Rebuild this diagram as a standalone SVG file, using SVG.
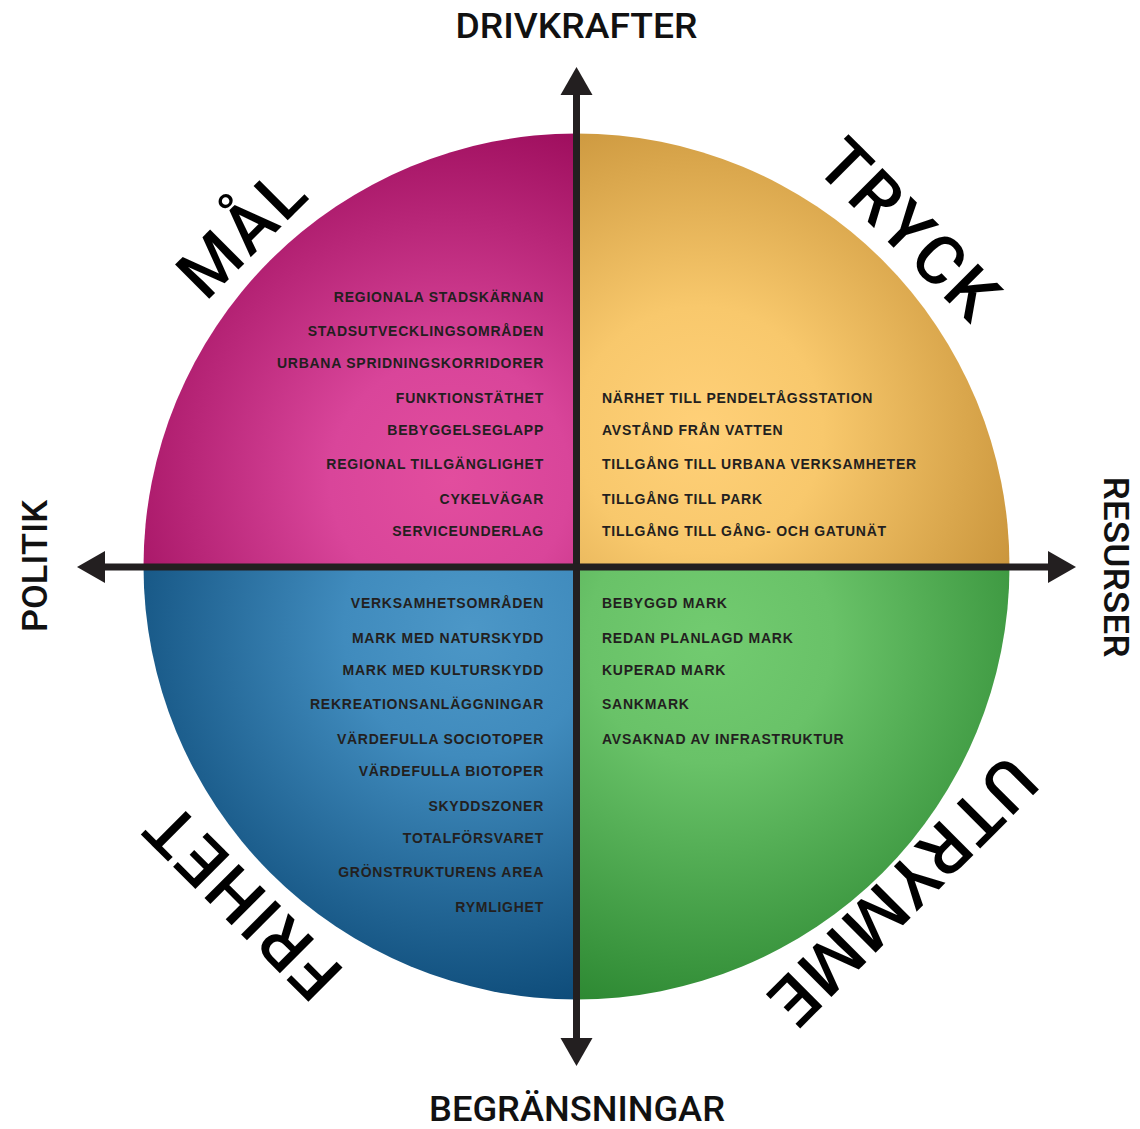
<svg xmlns="http://www.w3.org/2000/svg" width="1140" height="1129" viewBox="0 0 1140 1129">
  <style>
    .item { font-family: "Liberation Sans", Arial, sans-serif; font-weight: bold; font-size: 14px; letter-spacing: 0.75px; fill: #231f20; }
    .left { text-anchor: end; }
    .right { text-anchor: start; }
    .axis-label { font-family: Roboto, "Liberation Sans", Arial, sans-serif; font-weight: 500; font-size: 35px; fill: #111; text-anchor: middle; }
    .quad-label { font-family: Roboto, "Liberation Sans", Arial, sans-serif; font-weight: 500; font-size: 68px; letter-spacing: 3px; fill: #000; text-anchor: middle; }
    .axis { stroke: #231f20; stroke-width: 7; fill: none; }
    .head { fill: #231f20; }
  </style>
  <defs>
    <radialGradient id="gMal" gradientUnits="userSpaceOnUse" cx="450" cy="480" r="400">
      <stop offset="0" stop-color="#e24d9e"/>
      <stop offset="0.3" stop-color="#d9459a"/>
      <stop offset="1" stop-color="#970756"/>
    </radialGradient>
    <radialGradient id="gTryck" gradientUnits="userSpaceOnUse" cx="700" cy="430" r="410">
      <stop offset="0" stop-color="#ffd078"/>
      <stop offset="0.3" stop-color="#f8c86c"/>
      <stop offset="1" stop-color="#bb852d"/>
    </radialGradient>
    <radialGradient id="gFrihet" gradientUnits="userSpaceOnUse" cx="470" cy="630" r="420">
      <stop offset="0" stop-color="#4c97c7"/>
      <stop offset="0.3" stop-color="#408bbd"/>
      <stop offset="1" stop-color="#074370"/>
    </radialGradient>
    <radialGradient id="gUtrymme" gradientUnits="userSpaceOnUse" cx="710" cy="640" r="410">
      <stop offset="0" stop-color="#72cb70"/>
      <stop offset="0.3" stop-color="#69c268"/>
      <stop offset="1" stop-color="#27832d"/>
    </radialGradient>
  </defs>

  <!-- quadrants -->
  <g id="mal">
    <path d="M576.5,566.5 L143.5,566.5 A433,433 0 0 1 576.5,133.5 Z" fill="url(#gMal)"/>
    <text class="quad-label" transform="translate(242,232) rotate(-45)" y="24">MÅL</text>
    <text class="item left" x="544" y="302">REGIONALA STADSKÄRNAN</text>
    <text class="item left" x="544" y="336">STADSUTVECKLINGSOMRÅDEN</text>
    <text class="item left" x="544" y="368">URBANA SPRIDNINGSKORRIDORER</text>
    <text class="item left" x="544" y="403">FUNKTIONSTÄTHET</text>
    <text class="item left" x="544" y="435">BEBYGGELSEGLAPP</text>
    <text class="item left" x="544" y="469">REGIONAL TILLGÄNGLIGHET</text>
    <text class="item left" x="544" y="504">CYKELVÄGAR</text>
    <text class="item left" x="544" y="536">SERVICEUNDERLAG</text>
  </g>

  <g id="tryck">
    <path d="M576.5,566.5 L576.5,133.5 A433,433 0 0 1 1009.5,566.5 Z" fill="url(#gTryck)"/>
    <text class="quad-label" transform="translate(910,230) rotate(45)" y="24">TRYCK</text>
    <text class="item right" x="602" y="403">NÄRHET TILL PENDELTÅGSSTATION</text>
    <text class="item right" x="602" y="435">AVSTÅND FRÅN VATTEN</text>
    <text class="item right" x="602" y="469">TILLGÅNG TILL URBANA VERKSAMHETER</text>
    <text class="item right" x="602" y="504">TILLGÅNG TILL PARK</text>
    <text class="item right" x="602" y="536">TILLGÅNG TILL GÅNG- OCH GATUNÄT</text>
  </g>

  <g id="frihet">
    <path d="M576.5,566.5 L576.5,999.5 A433,433 0 0 1 143.5,566.5 Z" fill="url(#gFrihet)"/>
    <text class="quad-label" transform="translate(242,901) rotate(-135)" y="24">FRIHET</text>
    <text class="item left" x="544" y="608">VERKSAMHETSOMRÅDEN</text>
    <text class="item left" x="544" y="643">MARK MED NATURSKYDD</text>
    <text class="item left" x="544" y="675">MARK MED KULTURSKYDD</text>
    <text class="item left" x="544" y="709">REKREATIONSANLÄGGNINGAR</text>
    <text class="item left" x="544" y="744">VÄRDEFULLA SOCIOTOPER</text>
    <text class="item left" x="544" y="776">VÄRDEFULLA BIOTOPER</text>
    <text class="item left" x="544" y="811">SKYDDSZONER</text>
    <text class="item left" x="544" y="843">TOTALFÖRSVARET</text>
    <text class="item left" x="544" y="877">GRÖNSTRUKTURENS AREA</text>
    <text class="item left" x="544" y="912">RYMLIGHET</text>
  </g>

  <g id="utrymme">
    <path d="M576.5,566.5 L1009.5,566.5 A433,433 0 0 1 576.5,999.5 Z" fill="url(#gUtrymme)"/>
    <text class="quad-label" transform="translate(902,892) rotate(135)" y="24">UTRYMME</text>
    <text class="item right" x="602" y="608">BEBYGGD MARK</text>
    <text class="item right" x="602" y="643">REDAN PLANLAGD MARK</text>
    <text class="item right" x="602" y="675">KUPERAD MARK</text>
    <text class="item right" x="602" y="709">SANKMARK</text>
    <text class="item right" x="602" y="744">AVSAKNAD AV INFRASTRUKTUR</text>
  </g>

  <!-- axes with arrowheads -->
  <g id="connectors">
    <line class="axis" x1="576.5" y1="92" x2="576.5" y2="1041"/>
    <line class="axis" x1="102" y1="567" x2="1051" y2="567"/>
    <polygon class="head" points="576.5,67 560.5,95 592.5,95"/>
    <polygon class="head" points="576.5,1066 560.5,1038 592.5,1038"/>
    <polygon class="head" points="77,567 105,551 105,583"/>
    <polygon class="head" points="1076,567 1048,551 1048,583"/>
  </g>

  <g id="axis-labels">
    <text class="axis-label" x="576.5" y="38" textLength="242" lengthAdjust="spacingAndGlyphs">DRIVKRAFTER</text>
    <text class="axis-label" x="577" y="1121" textLength="296" lengthAdjust="spacingAndGlyphs">BEGRÄNSNINGAR</text>
    <text class="axis-label" transform="translate(47,566) rotate(-90)" textLength="132" lengthAdjust="spacingAndGlyphs">POLITIK</text>
    <text class="axis-label" transform="translate(1104,567) rotate(90)" textLength="181" lengthAdjust="spacingAndGlyphs">RESURSER</text>
  </g>
</svg>
